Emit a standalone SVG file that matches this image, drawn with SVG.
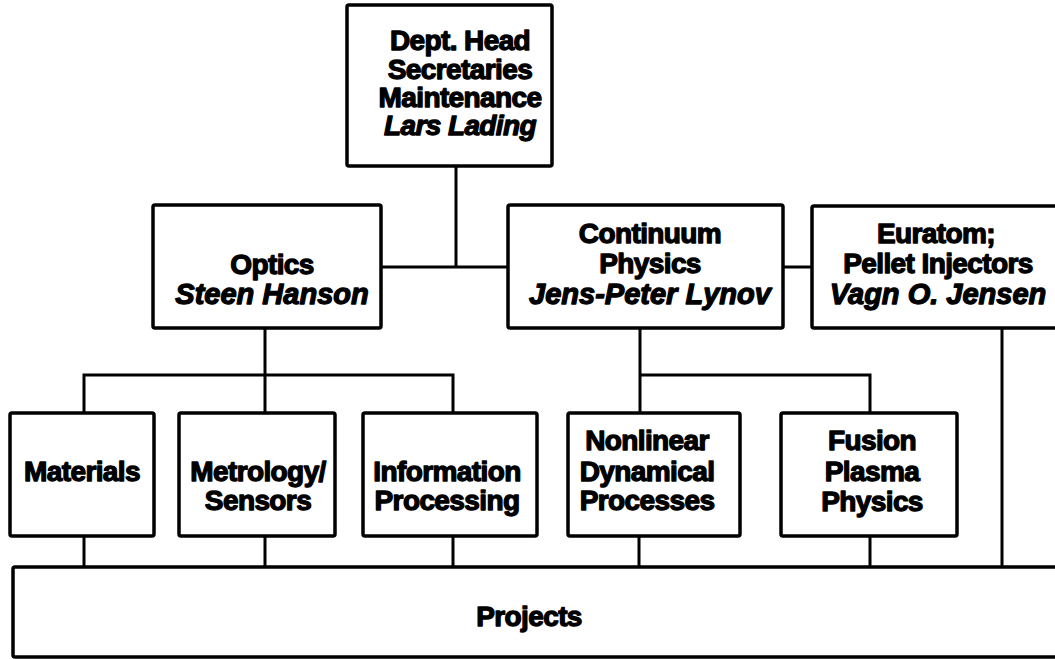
<svg xmlns="http://www.w3.org/2000/svg" width="1055" height="659" viewBox="0 0 1055 659">
  <style>
    .box { fill: #ffffff; stroke: #000000; stroke-width: 3.5; }
    .wire { fill: none; stroke: #000000; stroke-width: 3; }
    .t { font-family: "Liberation Sans", Arial, sans-serif; font-size: 28px; font-weight: bold; fill: #000000; stroke: #000000; stroke-width: 1.3; stroke-linejoin: round; letter-spacing: -0.6px; text-anchor: middle; }
    .i { font-style: italic; }
    .lead { font-size: 29px; letter-spacing: 0px; }
  </style>
  <rect width="1055" height="659" fill="#ffffff"/>

  <!-- connectors -->
  <g id="connectors">
    <path class="wire" d="M456,166 V267"/>
    <path class="wire" d="M381,267 H508"/>
    <path class="wire" d="M783,267 H812"/>
    <path class="wire" d="M265,328 V413"/>
    <path class="wire" d="M84,413 V375 H453 V413"/>
    <path class="wire" d="M640,328 V413"/>
    <path class="wire" d="M640,375 H870 V413"/>
    <path class="wire" d="M1002,328 V567"/>
    <path class="wire" d="M84,536 V567"/>
    <path class="wire" d="M265,536 V567"/>
    <path class="wire" d="M453,536 V567"/>
    <path class="wire" d="M639,536 V567"/>
    <path class="wire" d="M870,536 V567"/>
  </g>

  <!-- department head -->
  <g id="head">
    <rect class="box" x="347" y="5" width="205" height="161" rx="2"/>
    <text class="t" x="460" y="50">Dept. Head</text>
    <text class="t" x="460" y="79">Secretaries</text>
    <text class="t" x="460" y="107">Maintenance</text>
    <text class="t i" x="460" y="135">Lars Lading</text>
  </g>

  <!-- sections -->
  <g id="optics">
    <rect class="box" x="153" y="205" width="228" height="123" rx="2"/>
    <text class="t" x="272" y="274">Optics</text>
    <text class="t i lead" x="272" y="304">Steen Hanson</text>
  </g>
  <g id="continuum">
    <rect class="box" x="508" y="205" width="275" height="123" rx="2"/>
    <text class="t" x="650" y="243">Continuum</text>
    <text class="t" x="650" y="273">Physics</text>
    <text class="t i lead" x="650" y="304">Jens-Peter Lynov</text>
  </g>
  <g id="euratom">
    <rect class="box" x="812" y="206" width="260" height="122" rx="2"/>
    <text class="t" x="936" y="243">Euratom;</text>
    <text class="t" x="938" y="273">Pellet Injectors</text>
    <text class="t i lead" x="938" y="304">Vagn O. Jensen</text>
  </g>

  <!-- groups -->
  <g id="materials">
    <rect class="box" x="10" y="413" width="144" height="123" rx="2"/>
    <text class="t" x="82" y="481">Materials</text>
  </g>
  <g id="metrology">
    <rect class="box" x="179" y="413" width="156" height="123" rx="2"/>
    <text class="t" x="258" y="481">Metrology/</text>
    <text class="t" x="258" y="510">Sensors</text>
  </g>
  <g id="information">
    <rect class="box" x="363" y="413" width="174" height="123" rx="2"/>
    <text class="t" x="447" y="481">Information</text>
    <text class="t" x="447" y="510">Processing</text>
  </g>
  <g id="nonlinear">
    <rect class="box" x="568" y="413" width="172" height="123" rx="2"/>
    <text class="t" x="647" y="450">Nonlinear</text>
    <text class="t" x="647" y="481">Dynamical</text>
    <text class="t" x="647" y="510">Processes</text>
  </g>
  <g id="fusion">
    <rect class="box" x="781" y="413" width="176" height="123" rx="2"/>
    <text class="t" x="872" y="450">Fusion</text>
    <text class="t" x="872" y="481">Plasma</text>
    <text class="t" x="872" y="511">Physics</text>
  </g>

  <!-- projects -->
  <g id="projects">
    <rect class="box" x="13" y="567" width="1060" height="90" rx="2"/>
    <text class="t" x="529" y="626">Projects</text>
  </g>
</svg>
